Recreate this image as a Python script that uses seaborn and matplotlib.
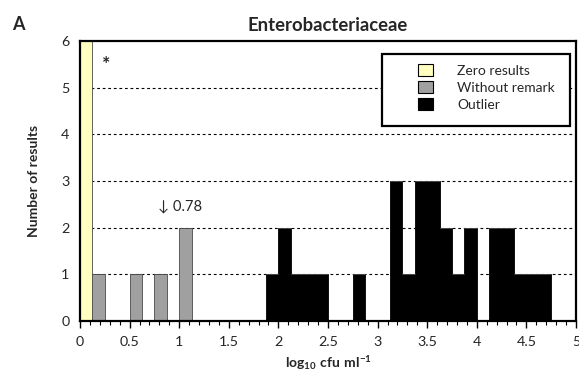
import numpy as np
import pandas as pd
import matplotlib
matplotlib.use("Agg")
import matplotlib.pyplot as plt
from matplotlib.patches import Patch, Rectangle
from matplotlib.ticker import MultipleLocator
import seaborn as sns

# ---- data ----
bin_width = 0.125
zero_starts = [0.0]
zero_counts = [6]
grey_starts = [0.125, 0.5, 0.75, 1.0]
grey_counts = [1, 1, 1, 2]
outlier_starts = [1.875, 2.0, 2.125, 2.25, 2.375, 2.75, 3.125, 3.25, 3.375,
                  3.5, 3.625, 3.75, 3.875, 4.125, 4.25, 4.375, 4.5, 4.625]
outlier_counts = [1, 2, 1, 1, 1, 1, 3, 1, 3, 3, 2, 1, 2, 2, 2, 1, 1, 1]
categories = ["Zero results", "Without remark", "Outlier"]
colors = ["#FFFFC0", "#A0A0A0", "#000000"]
x_tick_labels = ["0", "0.5", "1", "1.5", "2", "2.5", "3", "3.5", "4", "4.5", "5"]

rows = []
for cat, starts, counts in zip(categories,
                               [zero_starts, grey_starts, outlier_starts],
                               [zero_counts, grey_counts, outlier_counts]):
    for s, c in zip(starts, counts):
        rows.append({"x": s + bin_width / 2, "count": c, "category": cat})
df = pd.DataFrame(rows)

sns.set_style("white")
plt.rcParams["font.family"] = ["Lato", "DejaVu Sans"]
plt.rcParams["mathtext.fontset"] = "custom"
plt.rcParams["mathtext.rm"] = "Lato"
plt.rcParams["mathtext.bf"] = "Lato:bold"

W, H = 579, 381
fig = plt.figure(figsize=(W / 100, H / 100), dpi=100)
ax = fig.add_axes([80 / W, 1 - 321 / H, 496 / W, 280 / H])
renderer = fig.canvas.get_renderer()


def size_for(s, target_px, base=10, **kw):
    t = fig.text(0, 0, s, fontsize=base, **kw)
    w = t.get_window_extent(renderer).width
    t.remove()
    return base * target_px / w


tick_fs = size_for("2.5", 20)
ann_fs = size_for("0.78", 29)
leg_fs = size_for("Without remark", 98)
title_fs = size_for("Enterobacteriaceae", 161, fontweight="bold")
xl_fs = size_for(r"$\mathbf{log_{10}\ cfu\ ml^{-1}}$", 87)

for yv in range(1, 6):
    ax.axhline(yv, color="black", linestyle=(0, (2.5, 2.5)), linewidth=0.8, zorder=0)

sns.histplot(data=df, x="x", weights="count", hue="category",
             binwidth=bin_width, binrange=(0, 5),
             hue_order=categories, palette=dict(zip(categories, colors)),
             multiple="stack", alpha=1, edgecolor="#4a4a4a", linewidth=0.6,
             legend=False, ax=ax, zorder=2)
for p in ax.patches:
    if p.get_facecolor()[0] < 0.1:
        p.set_edgecolor("black")

ax.set_xlim(0, 5)
ax.set_ylim(0, 6)
ax.set_xticks(np.arange(0, 5.01, 0.5))
ax.set_xticklabels(x_tick_labels)
ax.xaxis.set_minor_locator(MultipleLocator(0.1))
ax.set_yticks(range(0, 7))
ax.tick_params(axis="x", which="major", direction="out", length=5, width=1,
               color="black", labelsize=tick_fs, pad=6, bottom=True)
ax.tick_params(axis="x", which="minor", direction="out", length=3, width=0.8,
               color="black", bottom=True)
ax.tick_params(axis="y", length=0, labelsize=tick_fs, pad=7.5)
for sp in ax.spines.values():
    sp.set_visible(True)
    sp.set_color("black")
    sp.set_linewidth(1.6)
ax.grid(False)

ax.set_xlabel(r"$\mathbf{log_{10}\ cfu\ ml^{-1}}$", fontsize=xl_fs, labelpad=4)
ax.set_ylabel("Number of results", fontsize=xl_fs, fontweight="bold", labelpad=15)

fig.text(327.5 / W, 1 - 31 / H, "Enterobacteriaceae", fontsize=title_fs,
         fontweight="bold", ha="center", va="baseline")

ax.text(0.26, 5.5, "*", fontsize=14, fontweight="bold", ha="center", va="center")
ax.text(1.008, 2.45, "\u2193 0.78", fontsize=ann_fs, ha="center", va="center")
fig.text(12 / W, 1 - 24 / H, "A", fontsize=13, fontweight="bold",
         ha="left", va="center")

# legend box
box = Rectangle(((382 - 80) / 496, (321 - 126) / 280), 188 / 496, 72 / 280,
                transform=ax.transAxes, facecolor="white", edgecolor="black",
                linewidth=1.6, zorder=4)
ax.add_patch(box)
handles = [Patch(facecolor=c, edgecolor="black", linewidth=0.8) for c in colors]
leg = ax.legend(handles, categories, loc="upper left",
                bbox_to_anchor=((418 - 80) / 496, (321 - 64) / 280),
                frameon=False, fontsize=leg_fs,
                handlelength=1.05, handleheight=0.9, handletextpad=1.75,
                borderpad=0, labelspacing=0.32, borderaxespad=0)
leg.set_zorder(5)

fig.savefig("out.png", dpi=100)
